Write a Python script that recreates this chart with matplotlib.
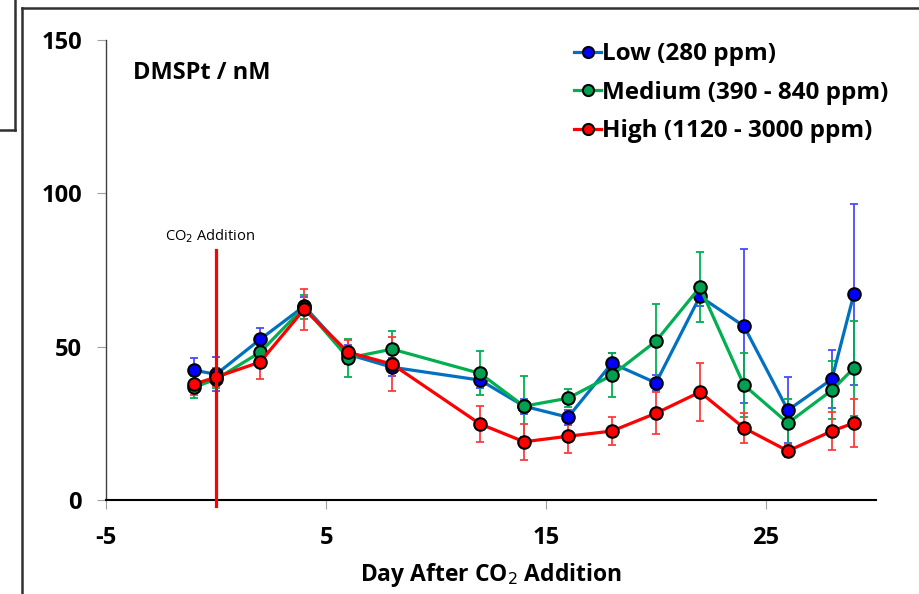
import matplotlib
matplotlib.use("Agg")
import matplotlib.pyplot as plt
from matplotlib.lines import Line2D

# --------------------------------------------------------
# Data
# --------------------------------------------------------

days = [-1, 0, 2, 4, 6, 8, 12, 14, 16, 18, 20, 22, 24, 26, 28, 29]

low = [42.3, 41.0, 52.4, 63.2, 47.5, 43.3, 39.1, 30.6, 27.0, 44.6, 38.2, 66.4, 56.7, 29.3, 39.4, 67.1]
low_err = [4.0, 5.5, 3.6, 3.0, 3.0, 3.0, 2.5, 2.5, 2.5, 3.4, 2.5, 3.0, 25.2, 10.8, 9.5, 29.5]

medium = [36.8, 39.4, 48.2, 62.9, 46.3, 49.2, 41.3, 30.6, 33.2, 40.7, 51.8, 69.4, 37.5, 25.1, 35.8, 43.0]
medium_err = [3.6, 3.0, 3.0, 4.0, 6.2, 6.0, 7.2, 10.0, 3.0, 7.2, 12.2, 11.4, 10.5, 8.0, 9.5, 15.5]

high = [37.8, 40.1, 45.0, 62.2, 48.2, 44.3, 24.8, 19.0, 20.8, 22.5, 28.3, 35.2, 23.5, 16.0, 22.5, 25.1]
high_err = [3.5, 3.0, 5.5, 6.6, 4.0, 8.8, 5.9, 5.9, 5.6, 4.6, 6.8, 9.5, 5.0, 2.0, 6.2, 7.8]

labels = ["Low (280 ppm)", "Medium (390 - 840 ppm)", "High (1120 - 3000 ppm)"]

# --------------------------------------------------------
# Plot
# --------------------------------------------------------

plt.rcParams["font.family"] = ["Open Sans", "DejaVu Sans"]
plt.rcParams["axes.unicode_minus"] = False

fig = plt.figure(figsize=(9.2, 5.94), dpi=100)
ax = fig.add_axes([0.1155, 0.1582, 0.8365, 0.7745])

series = [
    (low, low_err, "#0070C0", "#0000FF", "#4A4AFF"),
    (medium, medium_err, "#00B050", "#00A050", "#00B050"),
    (high, high_err, "#FF0000", "#FF0000", "#FF3B3B"),
]

for (vals, errs, lc, mc, ec), lab in zip(series, labels):
    ax.errorbar(days, vals, yerr=errs, fmt="none", ecolor=ec,
                elinewidth=1.3, capsize=3, capthick=1.3, zorder=2)
    ax.plot(days, vals, color=lc, lw=2.3, marker="o", markersize=9,
            markerfacecolor=mc, markeredgecolor="black",
            markeredgewidth=1.5, label=lab, zorder=3)

# CO2 addition marker
ax.plot([0, 0], [81.5, -2], color="#FF0000", lw=2.3, clip_on=False, zorder=4)
ax.text(-0.3, 83, "CO$_2$ Addition", fontsize=10.5, ha="center", va="bottom")

ax.set_xlim(-5, 30)
ax.set_ylim(0, 150)
ax.set_xticks([-5, 5, 15, 25])
ax.set_yticks([0, 50, 100, 150])

for s in ["top", "right"]:
    ax.spines[s].set_visible(False)
ax.spines["left"].set_color("#404040")
ax.spines["left"].set_linewidth(1.0)
ax.spines["bottom"].set_color("black")
ax.spines["bottom"].set_linewidth(1.5)

ax.tick_params(axis="both", direction="out", length=6.5, width=0.8,
               color="#A0A0A0", labelsize=17)
ax.tick_params(axis="y", pad=11)
ax.tick_params(axis="x", pad=12)
for t in ax.get_xticklabels() + ax.get_yticklabels():
    t.set_fontweight("bold")

ax.set_xlabel("Day After CO$_2$ Addition", fontsize=16.5, fontweight="bold",
              labelpad=8)
ax.text(0.035, 0.955, "DMSPt / nM", transform=ax.transAxes, fontsize=17,
        fontweight="bold", ha="left", va="top")

leg = ax.legend(loc="upper left", bbox_to_anchor=(0.608, 0.995), frameon=False,
                prop={"size": 17.5, "weight": "bold"}, handlelength=1.1,
                handletextpad=0.05, labelspacing=0.6, borderaxespad=0,
                borderpad=0)
for h in leg.legend_handles:
    h.set_markersize(8)

# slide frame fragments around the chart
W, H = 920, 594
frame = "#303030"
fig.add_artist(Line2D([22 / W, 22 / W], [0, 1 - 8 / H], color=frame, lw=1.8))
fig.add_artist(Line2D([22 / W, 1], [1 - 8 / H, 1 - 8 / H], color=frame, lw=1.8))
fig.add_artist(Line2D([15 / W, 15 / W], [1, 1 - 130 / H], color=frame, lw=1.8))
fig.add_artist(Line2D([0, 15 / W], [1 - 130 / H, 1 - 130 / H], color=frame, lw=1.8))

plt.savefig("out.png", dpi=100)
plt.close()
